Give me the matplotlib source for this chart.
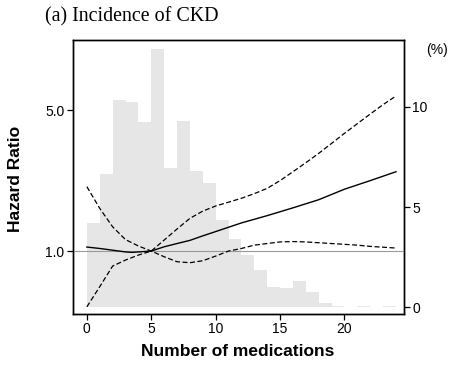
import numpy as np
import matplotlib
matplotlib.use("Agg")
import matplotlib.pyplot as plt

# histogram of number of medications (% of patients), bins [k, k+1)
bin_left = list(range(24))
pct = [4.2, 6.64, 10.32, 10.23, 9.24, 12.89, 6.92, 9.29, 6.77, 6.2,
       4.35, 3.42, 2.59, 1.89, 1.0, 0.95, 1.34, 0.78, 0.22, 0.08,
       0.0, 0.05, 0.0, 0.05]

# spline hazard ratio (reference = 5 medications)
hr_x = [0, 1, 2, 3, 3.5, 4, 5, 6, 7, 8, 9, 10, 12, 14, 16, 18, 20, 22, 24]
hr = [1.047, 1.03, 1.01, 0.99, 0.985, 0.99, 1.0, 1.05, 1.09, 1.13, 1.19,
      1.25, 1.38, 1.5, 1.64, 1.8, 2.03, 2.24, 2.48]

# confidence limits (cross at reference)
ci_x = [0, 1, 2, 3, 4, 5, 6, 7, 8, 9, 10, 11, 12, 13, 14, 15, 16, 17, 18,
        19, 20, 21, 22, 23, 24]
ci_a = [2.09, 1.63, 1.32, 1.14, 1.06, 1.0, 0.937, 0.885, 0.875, 0.895,
        0.944, 1.0, 1.03, 1.07, 1.09, 1.11, 1.115, 1.11, 1.10, 1.09,
        1.08, 1.07, 1.055, 1.045, 1.035]
ci_b = [0.528, 0.665, 0.842, 0.902, 0.955, 1.0, 1.134, 1.287, 1.454, 1.58,
        1.675, 1.75, 1.83, 1.93, 2.05, 2.24, 2.48, 2.75, 3.06, 3.43,
        3.85, 4.3, 4.8, 5.35, 5.9]

plt.rcParams['font.family'] = ['Liberation Sans', 'DejaVu Sans']

fig = plt.figure(figsize=(4.61, 3.67), dpi=100)
ax = fig.add_axes([0.1577, 0.1452, 0.718, 0.745])

# bars on the primary axes, shown on the right
ax.bar(bin_left, pct, width=1.0, align='edge', color='#e6e6e6',
       linewidth=0, zorder=1)
ax.set_ylim(-0.31, 13.3)
ax.set_xlim(-1.1, 24.6)
ax.set_xticks([0, 5, 10, 15, 20])

ax2 = ax.twinx()
ax.yaxis.tick_right()
ax.set_yticks([0, 5, 10])
ax2.yaxis.tick_left()
ax2.set_yscale('log')
ax2.set_ylim(0.488, 11.17)
ax2.set_yticks([1.0, 5.0])
ax2.set_yticklabels(['1.0', '5.0'])
ax2.yaxis.set_minor_locator(matplotlib.ticker.NullLocator())

ax2.axhline(1.0, color='#999999', lw=0.8)
ax2.plot(hr_x, hr, color='black', lw=1.0)
ax2.plot(ci_x, ci_a, color='black', lw=0.9, dashes=(4, 2))
ax2.plot(ci_x, ci_b, color='black', lw=0.9, dashes=(4, 2))

for a in (ax, ax2):
    a.tick_params(direction='out', length=4, width=0.9, labelsize=10,
                  pad=2)
    for s in a.spines.values():
        s.set_linewidth(1.0)

fig.text(45 / 461, 1 - 17 / 367, '(a) Incidence of CKD',
         family='Liberation Serif', fontsize=14.4, va='center', ha='left')
fig.text(16 / 461, 1 - 179 / 367, 'Hazard Ratio', rotation=90,
         fontsize=12.5, fontweight='bold', va='center', ha='center')
fig.text(238 / 461, 1 - 351 / 367, 'Number of medications',
         fontsize=12.5, fontweight='bold', va='center', ha='center')
fig.text(437 / 461, 1 - 50 / 367, '(%)', fontsize=10,
         va='center', ha='center')

fig.savefig('out.png', dpi=100)
